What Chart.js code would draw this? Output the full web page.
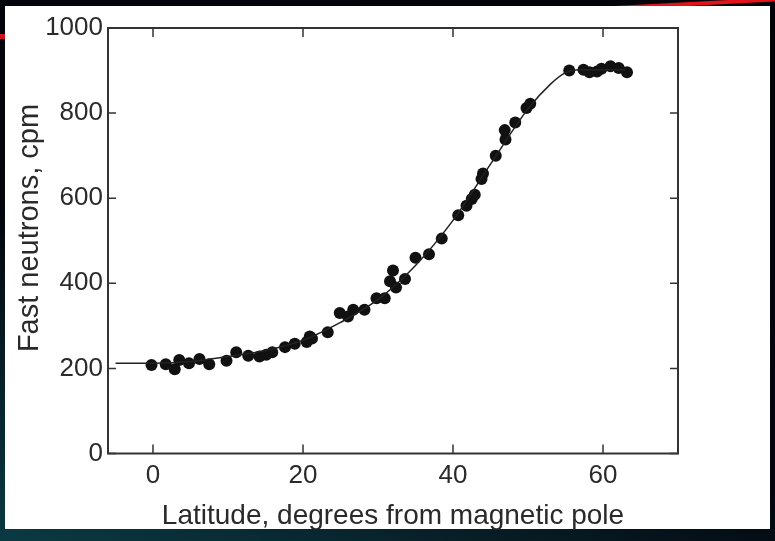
<!DOCTYPE html>
<html>
<head>
<meta charset="utf-8">
<script src="https://cdn.jsdelivr.net/npm/chart.js@4.4.1/dist/chart.umd.min.js"></script>
<style>
  html, body { margin: 0; padding: 0; }
  body {
    width: 775px; height: 541px; overflow: hidden; position: relative;
    background: linear-gradient(200deg, #02040a 0%, #03060d 60%, #0b3a44 100%);
  }
  #panel {
    position: absolute; left: 5px; top: 6px; width: 765px; height: 523px;
    background: #fff;
  }
  #streak1 {
    position: absolute; left: 590px; top: 2px; width: 200px; height: 4px;
    background: #e0141a; transform: rotate(-3deg);
  }
  #streak2 {
    position: absolute; left: 0; top: 34px; width: 6px; height: 5px; background: #d0101a;
  }
  #wrap { position: absolute; left: 0; top: 0; width: 775px; height: 541px; }
</style>
</head>
<body>
<div id="streak1"></div>
<div id="streak2"></div>
<div id="panel"></div>
<div id="wrap"><canvas id="neutronChart" width="775" height="541"></canvas></div>
<script>
// measured points (latitude deg, counts per minute)
var latitude = [-0.2, 1.7, 2.9, 3.5, 4.8, 6.2, 7.5, 9.8, 11.1, 12.7, 14.2, 15.1, 15.9, 17.6, 18.9,
  20.5, 20.9, 21.2, 23.3, 24.9, 26.0, 26.7, 28.2, 29.8, 30.9, 31.6, 32.0, 32.4, 33.6, 35.0, 36.8,
  38.5, 40.7, 41.8, 42.5, 42.9, 43.8, 44.0, 45.7, 46.9, 47.0, 48.3, 49.8, 50.3,
  55.5, 57.4, 58.2, 59.2, 59.8, 61.0, 62.1, 63.2];
var counts = [208, 210, 198, 220, 212, 222, 210, 218, 238, 230, 228, 232, 238, 250, 258,
  262, 275, 270, 285, 330, 322, 338, 338, 365, 365, 405, 430, 390, 410, 460, 468,
  505, 560, 582, 598, 608, 645, 658, 700, 760, 738, 778, 812, 822,
  900, 902, 896, 898, 904, 910, 906, 896];

// fitted curve
var curveLat = [-5, 0, 5, 10, 15, 20, 25, 30, 35, 40, 45, 50, 53, 55, 57, 63];
var curveCpm = [212, 212, 216, 228, 242, 266, 308, 362, 442, 548, 680, 810, 868, 895, 902, 902];

var xTicks = [0, 20, 40, 60];
var yTicks = [0, 200, 400, 600, 800, 1000];
var yTitle = 'Fast neutrons, cpm';

function toXY(xs, ys) {
  return xs.map(function (x, i) { return { x: x, y: ys[i] }; });
}

// box frame with inward tick marks on all four sides, plus the y title
var frameTicks = {
  id: 'frameTicks',
  afterDatasetsDraw: function (chart) {
    var ctx = chart.ctx, a = chart.chartArea;
    var xs = chart.scales.x, ys = chart.scales.y;
    ctx.save();
    ctx.strokeStyle = '#333';
    ctx.lineWidth = 2;
    ctx.strokeRect(a.left, a.top, a.right - a.left, a.bottom - a.top);
    ctx.lineWidth = 1.5;
    ctx.beginPath();
    xTicks.forEach(function (v) {
      var px = xs.getPixelForValue(v);
      ctx.moveTo(px, a.bottom); ctx.lineTo(px, a.bottom - 9);
      ctx.moveTo(px, a.top); ctx.lineTo(px, a.top + 9);
    });
    yTicks.forEach(function (v) {
      var py = ys.getPixelForValue(v);
      ctx.moveTo(a.left, py); ctx.lineTo(a.left + 8, py);
      ctx.moveTo(a.right, py); ctx.lineTo(a.right - 8, py);
    });
    ctx.stroke();

    ctx.translate(30, 228);
    ctx.rotate(-Math.PI / 2);
    ctx.fillStyle = '#2a2a2a';
    ctx.font = '29px "Liberation Sans"';
    ctx.textAlign = 'center';
    ctx.textBaseline = 'middle';
    ctx.fillText(yTitle, 0, 0);
    ctx.restore();
  }
};

document.addEventListener('DOMContentLoaded', function () {
  var ctx = document.getElementById('neutronChart').getContext('2d');
  new Chart(ctx, {
    type: 'scatter',
    data: {
      datasets: [{
        label: 'curve',
        data: toXY(curveLat, curveCpm),
        showLine: true,
        borderColor: '#222',
        borderWidth: 1.5,
        pointRadius: 0,
        cubicInterpolationMode: 'monotone'
      }, {
        label: 'measured',
        data: toXY(latitude, counts),
        backgroundColor: '#111',
        borderColor: '#111',
        pointRadius: 6,
        borderWidth: 0
      }]
    },
    options: {
      responsive: false,
      animation: false,
      layout: { padding: { top: 28, right: 97, left: 0, bottom: 0 } },
      plugins: {
        legend: { display: false },
        tooltip: { enabled: false }
      },
      scales: {
        x: {
          type: 'linear',
          min: -6,
          max: 70,
          afterBuildTicks: function (s) { s.ticks = xTicks.map(function (v) { return { value: v }; }); },
          afterFit: function (s) { s.height = 87.5; },
          grid: { display: false, drawTicks: false },
          border: { display: false },
          ticks: {
            color: '#2a2a2a', padding: 7,
            font: { family: 'Liberation Sans', size: 26 },
            callback: function (v) { return String(v); }
          },
          title: {
            display: true,
            text: 'Latitude, degrees from magnetic pole',
            color: '#2a2a2a',
            padding: { top: 0, bottom: 8 },
            font: { family: 'Liberation Sans', size: 28 }
          }
        },
        y: {
          min: 0,
          max: 1000,
          afterBuildTicks: function (s) { s.ticks = yTicks.map(function (v) { return { value: v }; }); },
          afterFit: function (s) { s.width = 108; },
          grid: { display: false, drawTicks: false },
          border: { display: false },
          ticks: {
            color: '#2a2a2a', padding: 5,
            font: { family: 'Liberation Sans', size: 26 },
            callback: function (v) { return String(v); }
          }
        }
      }
    },
    plugins: [frameTicks]
  });
});
</script>
</body>
</html>
